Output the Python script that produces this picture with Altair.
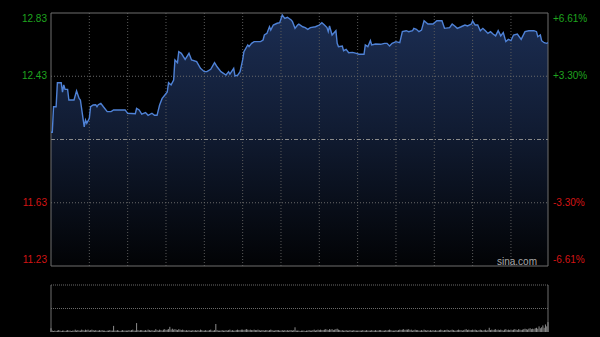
import altair as alt
import pandas as pd

# ---- data ----
MINUTES = [0, 1, 2, 4, 5, 8, 9, 10, 11, 13, 14, 18, 20, 22, 23, 26, 27, 28, 30, 31,
           33, 35, 36, 37, 39, 41, 44, 47, 49, 58, 59, 60, 66, 67, 69, 71, 74, 76, 79, 81,
           83, 85, 87, 89, 91, 92, 94, 96, 97, 99, 100, 102, 105, 108, 110, 114, 117, 120, 122, 125,
           128, 130, 133, 137, 139, 140, 143, 144, 146, 148, 150, 151, 154, 155, 157, 159, 164, 166, 167, 169,
           171, 172, 174, 177, 179, 181, 183, 185, 188, 189, 191, 193, 194, 197, 199, 201, 203, 207, 210, 212,
           214, 216, 217, 218, 220, 223, 224, 225, 228, 229, 231, 233, 236, 239, 241, 245, 246, 248, 250, 251,
           254, 258, 261, 263, 265, 267, 270, 273, 275, 278, 280, 283, 284, 286, 288, 290, 292, 295, 299, 302,
           306, 308, 312, 314, 316, 318, 321, 324, 326, 329, 330, 332, 334, 336, 338, 340, 342, 344, 346, 348,
           350, 352, 354, 356, 358, 360, 362, 365, 368, 371, 374, 378, 380, 381, 383, 384, 386, 388, 389]
PRICES = [12.076, 12.076, 12.237, 12.237, 12.389, 12.389, 12.330, 12.375, 12.347, 12.347,
          12.280, 12.280, 12.337, 12.290, 12.280, 12.110, 12.153, 12.132, 12.164, 12.237,
          12.248, 12.250, 12.237, 12.250, 12.259, 12.237, 12.206, 12.206, 12.217, 12.217,
          12.206, 12.196, 12.193, 12.227, 12.217, 12.190, 12.200, 12.183, 12.196, 12.183,
          12.183, 12.248, 12.290, 12.310, 12.330, 12.389, 12.375, 12.406, 12.533, 12.516,
          12.585, 12.575, 12.537, 12.575, 12.533, 12.522, 12.480, 12.459, 12.459, 12.474,
          12.516, 12.490, 12.459, 12.438, 12.459, 12.444, 12.480, 12.432, 12.436, 12.459,
          12.533, 12.585, 12.628, 12.617, 12.638, 12.649, 12.649, 12.659, 12.691, 12.701,
          12.743, 12.722, 12.754, 12.765, 12.769, 12.817, 12.796, 12.803, 12.786, 12.775,
          12.733, 12.754, 12.760, 12.743, 12.738, 12.727, 12.738, 12.743, 12.754, 12.769,
          12.754, 12.738, 12.712, 12.748, 12.691, 12.718, 12.638, 12.617, 12.621, 12.592,
          12.600, 12.579, 12.581, 12.575, 12.569, 12.569, 12.628, 12.617, 12.655, 12.628,
          12.634, 12.632, 12.638, 12.638, 12.621, 12.638, 12.649, 12.642, 12.712, 12.718,
          12.712, 12.718, 12.733, 12.727, 12.712, 12.722, 12.781, 12.760, 12.760, 12.781,
          12.781, 12.733, 12.737, 12.760, 12.748, 12.733, 12.743, 12.754, 12.748, 12.760,
          12.779, 12.754, 12.754, 12.718, 12.733, 12.718, 12.701, 12.712, 12.697, 12.685,
          12.718, 12.685, 12.706, 12.649, 12.663, 12.655, 12.691, 12.697, 12.663, 12.712,
          12.718, 12.718, 12.712, 12.680, 12.691, 12.655, 12.642, 12.638, 12.642]

VOLUME = [
    8, 3, 2, 3, 2, 3, 4, 3, 2, 3, 3, 2, 3, 4, 3, 3, 2, 3, 3, 5, 3, 4, 3, 3, 5, 4, 3, 5, 4, 5,
    3, 4, 5, 4, 3, 4, 3, 3, 4, 3, 4, 3, 3, 2, 3, 3, 4, 3, 3, 13, 3, 3, 4, 3, 2, 3, 4, 3, 3, 3,
    3, 4, 3, 4, 5, 3, 3, 19, 4, 3, 4, 4, 3, 3, 4, 3, 5, 4, 3, 4, 3, 3, 6, 4, 3, 5, 4, 3, 5, 6,
    4, 5, 6, 11, 5, 7, 5, 6, 5, 4, 6, 5, 4, 5, 4, 3, 4, 3, 4, 3, 3, 4, 3, 4, 3, 4, 3, 5, 4, 3,
    3, 4, 3, 3, 4, 5, 3, 3, 4, 17, 4, 3, 3, 3, 4, 3, 3, 4, 3, 4, 5, 3, 4, 3, 3, 4, 5, 4, 4, 5,
    5, 4, 5, 6, 5, 4, 5, 4, 4, 5, 4, 4, 5, 4, 3, 4, 4, 3, 4, 4, 3, 4, 5, 4, 3, 3, 4, 4, 4, 3,
    3, 4, 3, 4, 3, 4, 3, 4, 4, 3, 4, 10, 3, 3, 3, 2, 3, 3, 3, 2, 3, 3, 4, 3, 3, 4, 5, 3, 4, 5,
    4, 5, 4, 4, 5, 6, 5, 4, 6, 5, 6, 4, 5, 6, 7, 5, 4, 3, 4, 3, 3, 4, 3, 3, 4, 3, 3, 4, 3, 3,
    3, 3, 3, 3, 4, 3, 3, 4, 3, 3, 3, 4, 3, 3, 4, 3, 3, 4, 4, 3, 3, 3, 4, 3, 4, 5, 4, 3, 3, 3,
    4, 3, 4, 5, 4, 5, 6, 4, 5, 5, 6, 4, 5, 3, 4, 5, 4, 4, 3, 3, 4, 3, 5, 4, 3, 4, 3, 4, 3, 4,
    3, 4, 3, 3, 4, 5, 4, 3, 4, 4, 5, 4, 3, 4, 5, 4, 3, 3, 4, 5, 4, 4, 3, 4, 5, 6, 4, 5, 4, 4,
    5, 4, 5, 4, 3, 4, 5, 4, 3, 4, 5, 3, 4, 9, 4, 5, 4, 5, 6, 4, 5, 4, 5, 4, 3, 5, 6, 4, 5, 4,
    5, 4, 5, 6, 5, 4, 6, 5, 4, 5, 6, 7, 6, 5, 7, 8, 6, 7, 6, 8, 9, 7, 12, 8, 10, 14, 9, 16, 12, 21,
]

PREV_CLOSE = 12.03
PRICE_TOP = 12.83
PRICE_BOTTOM = 11.23
GRID_PRICES = [12.43, 11.63]
GRID_MINUTES = [30, 60, 90, 120, 150, 180, 210, 240, 270, 300, 330, 360]
LEFT_VALUES = [12.83, 12.43, 11.63, 11.23]
LEFT_TEXT = ["12.83", "12.43", "11.63", "11.23"]
RIGHT_TEXT = ["+6.61%", "+3.30%", "-3.30%", "-6.61%"]
LABEL_COLORS = ["#1fa51f", "#1fa51f", "#d41414", "#d41414"]
VOL_MAX = 100

# ---- layout (pixels) ----
W = 497
H = 319
MAIN_H = 253
VOL_TOP = 272
FONT = "Liberation Sans"

price_df = pd.DataFrame({"m": MINUTES, "p": PRICES})
vol_df = pd.DataFrame({"m": list(range(len(VOLUME))), "v": VOLUME})

x_scale = alt.Scale(domain=[0, 389], nice=False, zero=False)
py = alt.Scale(domain=[PRICE_BOTTOM, PRICE_TOP], range=[MAIN_H, 0], nice=False, zero=False)
vy = alt.Scale(domain=[0, VOL_MAX], range=[H, VOL_TOP], nice=False, zero=False)

X = lambda f: alt.X(f, type="quantitative", scale=x_scale, axis=None)
YP = lambda f: alt.Y(f, type="quantitative", scale=py, axis=None)
YV = lambda f: alt.Y(f, type="quantitative", scale=vy, axis=None)

grad = alt.Gradient(
    gradient="linear",
    stops=[alt.GradientStop(color="#1b2d52", offset=0),
           alt.GradientStop(color="#111c33", offset=0.45),
           alt.GradientStop(color="#020305", offset=1)],
    x1=1, x2=1, y1=0, y2=1,
)

area = alt.Chart(price_df).mark_area(color=grad).encode(
    x=X("m"), y=YP("p"), y2=alt.datum(PRICE_BOTTOM))

hgrid = alt.Chart(pd.DataFrame({"v": GRID_PRICES})).mark_rule(
    color="#6a6a6a", strokeDash=[1, 2], strokeWidth=1).encode(
    y=YP("v"), x=alt.value(0), x2=alt.value(W))

vgrid = alt.Chart(pd.DataFrame({"m": GRID_MINUTES})).mark_rule(
    color="#5a5a5a", strokeDash=[1, 2], strokeWidth=1).encode(
    x=X("m"), y=alt.value(0), y2=alt.value(MAIN_H))

prev = alt.Chart(pd.DataFrame({"v": [PREV_CLOSE]})).mark_rule(
    color="#8a8a8a", strokeDash=[4, 2, 1, 2], strokeWidth=1).encode(
    y=YP("v"), x=alt.value(0), x2=alt.value(W))

frame_h = alt.Chart(pd.DataFrame({"v": [PRICE_TOP, PRICE_BOTTOM]})).mark_rule(
    color="#6e6e6e", strokeWidth=1).encode(
    y=YP("v"), x=alt.value(0), x2=alt.value(W))

frame_v = alt.Chart(pd.DataFrame({"m": [0, 389]})).mark_rule(
    color="#6e6e6e", strokeWidth=1).encode(
    x=X("m"), y=alt.value(0), y2=alt.value(MAIN_H))

line = alt.Chart(price_df).mark_line(color="#4f82d6", strokeWidth=1.4).encode(
    x=X("m"), y=YP("p"))

lab_df = pd.DataFrame({"v": LEFT_VALUES, "t": LEFT_TEXT, "r": RIGHT_TEXT, "c": LABEL_COLORS})


def labels(rows, baseline, dy):
    d = lab_df.iloc[rows]
    left = alt.Chart(d).mark_text(align="right", baseline=baseline, fontSize=10,
                                  font=FONT, dy=dy).encode(
        x=alt.value(-4), y=YP("v"), text="t:N", color=alt.Color("c:N", scale=None))
    right = alt.Chart(d).mark_text(align="left", baseline=baseline, fontSize=10,
                                   font=FONT, dy=dy).encode(
        x=alt.value(W + 5), y=YP("v"), text="r:N", color=alt.Color("c:N", scale=None))
    return [left, right]


lbl = labels([0], "top", 1) + labels([1, 2], "middle", 0) + labels([3], "bottom", -1)

sina = alt.Chart(pd.DataFrame({"t": ["sina.com"]})).mark_text(
    align="right", baseline="middle", fontSize=10, font=FONT, color="#a8a8a8").encode(
    x=alt.value(486), y=alt.value(249), text="t:N")

# volume panel
vol_h = alt.Chart(pd.DataFrame({"v": [VOL_MAX, VOL_MAX / 2]})).mark_rule(
    color="#6a6a6a", strokeDash=[1, 1], strokeWidth=1).encode(
    y=YV("v"), x=alt.value(0), x2=alt.value(W))

vol_v = alt.Chart(pd.DataFrame({"m": [0, 389]})).mark_rule(
    color="#6e6e6e", strokeWidth=1).encode(
    x=X("m"), y=alt.value(VOL_TOP), y2=alt.value(H))

vol = alt.Chart(vol_df).mark_rule(color="#8c8c8c", strokeWidth=1).encode(
    x=X("m"), y=YV("v"), y2=alt.datum(0))

chart = alt.layer(
    area, vgrid, hgrid, prev, frame_h, frame_v, line, sina, *lbl, vol_h, vol_v, vol
).resolve_scale(y="independent").properties(
    width=W, height=H,
    autosize=alt.AutoSizeParams(type="none"),
    padding={"left": 51, "top": 13, "right": 52, "bottom": 5},
    background="#000000",
).configure_view(stroke=None)

chart.save("out.html", embed_options={"renderer": "svg", "actions": False})
